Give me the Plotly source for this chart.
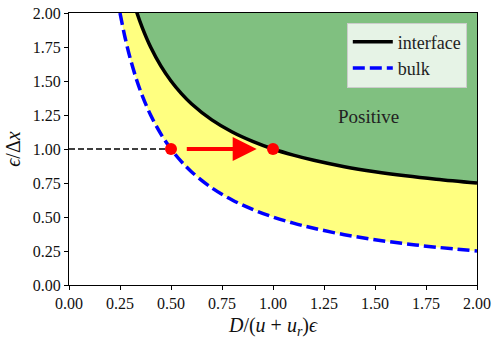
import plotly.graph_objects as go

x_vals = [0.25, 0.275, 0.30, 0.3333, 0.36, 0.40, 0.45, 0.50, 0.55, 0.60, 0.70, 0.80, 0.90,
          1.00, 1.10, 1.20, 1.35, 1.50, 1.65, 1.80, 2.00]
bulk = [2.00, 1.818, 1.667, 1.50, 1.389, 1.25, 1.111, 1.00, 0.909, 0.833, 0.714, 0.625, 0.556,
        0.50, 0.455, 0.417, 0.370, 0.333, 0.303, 0.278, 0.25]
interface = [2.50, 2.318, 2.167, 2.00, 1.889, 1.75, 1.611, 1.50, 1.409, 1.333, 1.214, 1.125, 1.056,
             1.00, 0.955, 0.917, 0.870, 0.833, 0.803, 0.778, 0.75]
top = [2.6] * len(x_vals)

pts_x = [0.5, 1.0]
pts_y = [1.0, 1.0]
ticks = [0.0, 0.25, 0.5, 0.75, 1.0, 1.25, 1.5, 1.75, 2.0]
tick_text = ["0.00", "0.25", "0.50", "0.75", "1.00", "1.25", "1.50", "1.75", "2.00"]

green = "rgb(128,192,128)"
yellow = "rgb(255,255,128)"
font = "Times New Roman, Liberation Serif, serif"

fig = go.Figure()

# green region above the interface curve
fig.add_trace(go.Scatter(x=x_vals, y=top, mode="lines", line=dict(width=0),
                         showlegend=False, hoverinfo="skip"))
fig.add_trace(go.Scatter(x=x_vals, y=interface, mode="lines", line=dict(width=0, shape="spline"),
                         fill="tonexty", fillcolor=green, showlegend=False, hoverinfo="skip"))
# yellow band between bulk and interface
fig.add_trace(go.Scatter(x=x_vals, y=bulk, mode="lines", line=dict(width=0, shape="spline"),
                         showlegend=False, hoverinfo="skip"))
fig.add_trace(go.Scatter(x=x_vals, y=interface, mode="lines", line=dict(width=0, shape="spline"),
                         fill="tonexty", fillcolor=yellow, showlegend=False, hoverinfo="skip"))

# dashed guide at y = 1
fig.add_trace(go.Scatter(x=[0.0, 0.5], y=[1.0, 1.0], mode="lines",
                         line=dict(color="black", width=1.5, dash="6px,3px"), showlegend=False))

fig.add_trace(go.Scatter(x=x_vals, y=interface, mode="lines", name="interface",
                         line=dict(color="black", width=3.5, shape="spline")))
fig.add_trace(go.Scatter(x=x_vals, y=bulk, mode="lines", name="bulk",
                         line=dict(color="blue", width=3.5, dash="12px,5px", shape="spline")))

fig.add_trace(go.Scatter(x=pts_x, y=pts_y, mode="markers", showlegend=False,
                         marker=dict(color="red", size=12)))

fig.add_annotation(x=0.92, y=1.0, ax=0.57, ay=1.0, xref="x", yref="y", axref="x", ayref="y",
                   text="", showarrow=True, arrowhead=2, arrowsize=1.2, arrowwidth=4,
                   arrowcolor="red")
fig.add_annotation(x=1.47, y=1.24, xref="x", yref="y", text="Positive", showarrow=False,
                   font=dict(family=font, size=19, color="#222"))

axis_common = dict(range=[0, 2], tickvals=ticks, ticktext=tick_text, showgrid=False,
                   zeroline=False, showline=True, linecolor="black", linewidth=1,
                   mirror=True, ticks="outside", ticklen=4, tickcolor="black",
                   automargin=False,
                   tickfont=dict(family=font, size=16, color="#111"))
fig.update_xaxes(**axis_common,
                 title=dict(text="<i>D</i>/(<i>u</i> + <i>u<sub>r</sub></i>)<i>ϵ</i>",
                            font=dict(family=font, size=20, color="#111"), standoff=6))
fig.update_yaxes(**axis_common,
                 title=dict(text="<i>ϵ</i>/Δ<i>x</i>",
                            font=dict(family=font, size=20, color="#111"), standoff=6))

fig.update_layout(
    width=499, height=341,
    margin=dict(l=69, r=22, t=13, b=56),
    plot_bgcolor="white", paper_bgcolor="white",
    legend=dict(x=0.975, y=0.965, xanchor="right", yanchor="top", traceorder="normal",
                bgcolor="rgba(255,255,255,0.8)", bordercolor="#cccccc", borderwidth=1,
                font=dict(family=font, size=18, color="#222"), tracegroupgap=0,
                itemwidth=40),
)

# drop the default page margin so the figure sits at the window corner
fig.write_html("out.html", config={"displayModeBar": False},
               post_script="document.body.style.margin='0';")
